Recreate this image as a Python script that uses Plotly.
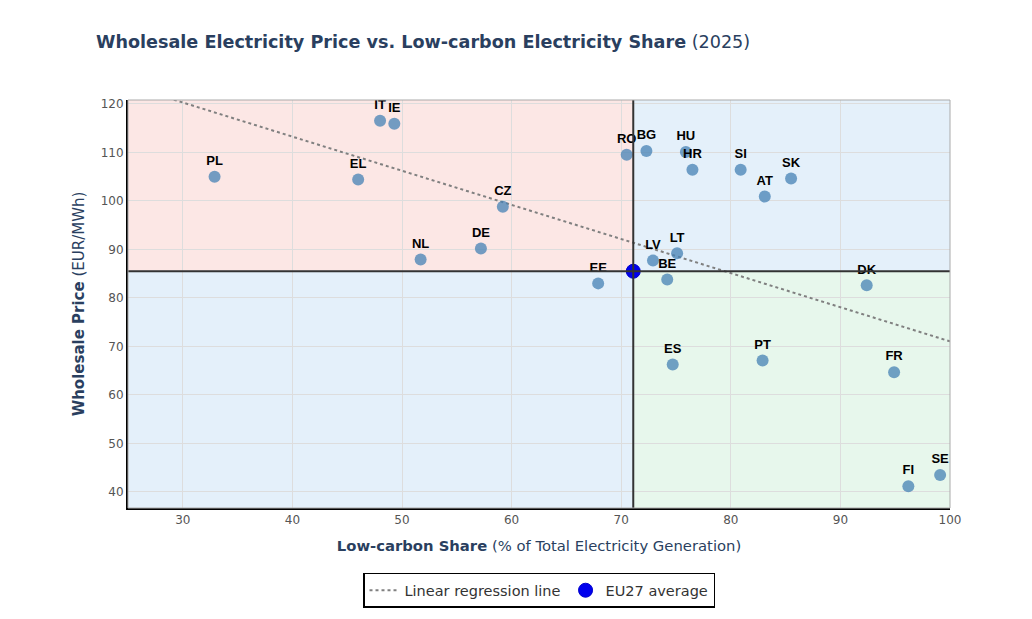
import plotly.graph_objects as go

countries = ["PL", "EL", "IT", "IE", "NL", "DE", "CZ", "RO", "BG", "HU", "HR", "SI", "AT", "SK",
             "LV", "LT", "BE", "EE", "DK", "ES", "PT", "FR", "FI", "SE"]
low_carbon = [32.9, 46.0, 48.0, 49.3, 51.7, 57.2, 59.2, 70.5, 72.3, 75.9, 76.5, 80.9, 83.1, 85.5,
              72.9, 75.1, 74.2, 67.9, 92.4, 74.7, 82.9, 94.9, 96.2, 99.1]
price = [105.0, 104.4, 116.5, 115.9, 87.9, 90.2, 98.8, 109.5, 110.3, 110.1, 106.4, 106.4, 100.9, 104.6,
         87.7, 89.2, 83.8, 83.0, 82.6, 66.3, 67.1, 64.7, 41.2, 43.5]

eu_x = [71.1]
eu_y = [85.5]

reg_x = [25, 100]
reg_y = [123.8, 71.05]

x_range = [25, 100]
y_range = [36.7, 120.8]

font_main = "Verdana, DejaVu Sans, sans-serif"
title_color = "#2a3f5f"

fig = go.Figure()

# quadrant shading
quads = [
    (x_range[0], eu_x[0], eu_y[0], y_range[1], "rgba(240,120,110,0.18)"),
    (eu_x[0], x_range[1], eu_y[0], y_range[1], "rgba(120,180,230,0.20)"),
    (x_range[0], eu_x[0], y_range[0], eu_y[0], "rgba(120,180,230,0.20)"),
    (eu_x[0], x_range[1], y_range[0], eu_y[0], "rgba(120,210,150,0.18)"),
]
for x0, x1, y0, y1, c in quads:
    fig.add_shape(type="rect", x0=x0, x1=x1, y0=y0, y1=y1, xref="x", yref="y",
                  fillcolor=c, line_width=0, layer="below")

fig.add_trace(go.Scatter(
    x=reg_x, y=reg_y, mode="lines", name="Linear regression line",
    line=dict(color="gray", width=2, dash="dot"), showlegend=True))

fig.add_trace(go.Scatter(
    x=low_carbon, y=price, mode="markers+text", text=countries,
    textposition="top center",
    textfont=dict(family="Arial, Liberation Sans, sans-serif", size=13, color="black", weight="bold"),
    marker=dict(size=12, color="rgba(70,130,180,0.75)"),
    showlegend=False, name="Countries"))

fig.add_trace(go.Scatter(
    x=eu_x, y=eu_y, mode="markers", name="EU27 average",
    marker=dict(size=14, color="#0000ee", line=dict(color="#0000cc", width=1))))

# average lines
fig.add_shape(type="line", x0=eu_x[0], x1=eu_x[0], y0=0, y1=1, xref="x", yref="paper",
              line=dict(color="#333333", width=2))
fig.add_shape(type="line", x0=0, x1=1, y0=eu_y[0], y1=eu_y[0], xref="paper", yref="y",
              line=dict(color="#333333", width=2))
# border
fig.add_shape(type="rect", x0=0, x1=1, y0=0, y1=1, xref="paper", yref="paper",
              line=dict(color="#aaaaaa", width=1), fillcolor="rgba(0,0,0,0)")

fig.update_layout(
    width=1032, height=619,
    margin=dict(l=128, r=82, t=100, b=110),
    paper_bgcolor="white", plot_bgcolor="white",
    font=dict(family=font_main, size=12, color="#555555"),
    title=dict(text="<b>Wholesale Electricity Price vs. Low-carbon Electricity Share</b> (2025)",
               x=96 / 1032, xanchor="left", xref="container", y=0.932, yanchor="middle",
               font=dict(family=font_main, size=17.6, color=title_color)),
    xaxis=dict(range=x_range, tickvals=[30, 40, 50, 60, 70, 80, 90, 100],
               showgrid=True, gridcolor="#dddddd", zeroline=False,
               showline=True, linecolor="black", linewidth=2, ticks="",
               title=dict(text="<b>Low-carbon Share</b> (% of Total Electricity Generation)",
                          font=dict(family=font_main, size=14.8, color=title_color), standoff=14)),
    yaxis=dict(range=y_range, tickvals=[40, 50, 60, 70, 80, 90, 100, 110, 120],
               showgrid=True, gridcolor="#dddddd", zeroline=False,
               showline=True, linecolor="black", linewidth=2, ticks="",
               title=dict(text="<b>Wholesale Price</b> (EUR/MWh)",
                          font=dict(family=font_main, size=15, color=title_color), standoff=12)),
    legend=dict(orientation="h", x=0.5, xanchor="center", y=-0.156, yanchor="top",
                bordercolor="black", borderwidth=1.5,
                font=dict(family=font_main, size=14.5, color="#333333")),
)

fig.write_html("out.html")
